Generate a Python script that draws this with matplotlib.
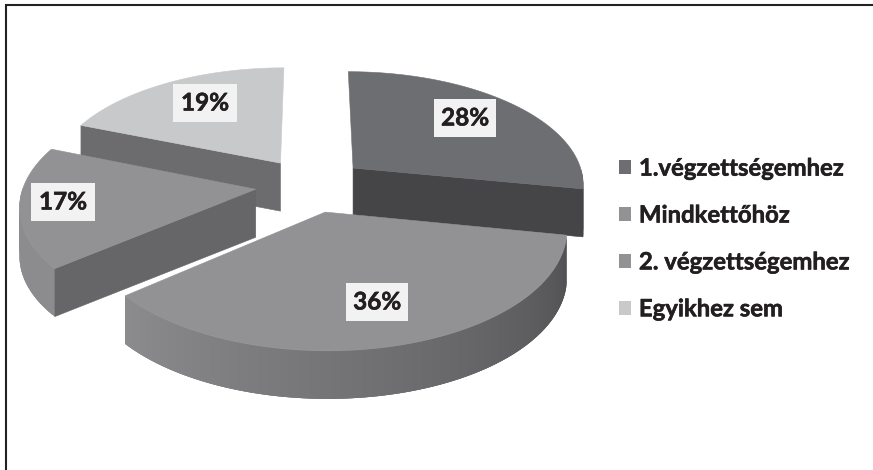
#!/usr/bin/env python3
import matplotlib
matplotlib.use("Agg")
import matplotlib.pyplot as plt
import matplotlib.patheffects as pe
from matplotlib.colors import to_rgb
from matplotlib.patches import Patch, Polygon
import numpy as np

labels = ["1.végzettségemhez", "Mindkettőhöz", "2. végzettségemhez", "Egyikhez sem"]
values = [28, 36, 17, 19]
pct_labels = ["28%", "36%", "17%", "19%"]

top_colors = ["#6d6e71", "#929295", "#929295", "#c8c9cb"]
side_colors = ["#454547", "#666669", "#666669", "#6c6c6f"]
label_pos = [(465, 118), (377, 302), (63, 202), (205, 103)]

# fake perspective, the pie lies on a plane and is tipped away from us
CX, CY = 311, 185
AX, AY = 232, 113
TILT = 0.13
EXPLODE = 0.24
DEPTH = 48

heavy = [pe.withStroke(linewidth=0.4, foreground="#231f20")]


def project(u, v):
    w = 1 + TILT * v
    return CX + AX * u / w, CY - AY * v / w


def wall_color(ang):
    # outer wall is dark on the right and light on the left
    t = np.clip((ang - 100) / 130, 0, 1)
    a = np.array(to_rgb("#505052"))
    b = np.array(to_rgb("#8c8c8e"))
    return a + (b - a) * t


fig = plt.figure(figsize=(8.73, 4.7), dpi=100)
ax = fig.add_axes([0, 0, 1, 1])
ax.set_xlim(0, 873)
ax.set_ylim(470, 0)
ax.axis("off")

# the frame only survives on the top and left of the scan
ax.plot([873, 5.5, 5.5], [5, 5, 470], color="#222222", lw=1.5, solid_joinstyle="miter")

edges = np.cumsum([0] + values) * 3.6
wedges = []
for i in range(len(values)):
    a0, a1 = edges[i], edges[i + 1]
    mid = np.radians((a0 + a1) / 2)
    ou, ov = EXPLODE * np.sin(mid), EXPLODE * np.cos(mid)
    wedges.append((i, a0, a1, ou, ov))

# back pieces first
for i, a0, a1, ou, ov in [wedges[3], wedges[0], wedges[2], wedges[1]]:
    angs = np.linspace(a0, a1, 120)
    ex, ey = project(ou + np.sin(np.radians(angs)), ov + np.cos(np.radians(angs)))
    px, py = project(ou, ov)

    # outer wall, each strip runs under the next one so no seams show
    for j in range(len(angs) - 1):
        if 90 < angs[j] < 270:
            k = min(j + 3, len(angs) - 1)
            strip = [(ex[n], ey[n]) for n in range(j, k + 1)]
            strip += [(ex[n], ey[n] + DEPTH) for n in range(k, j - 1, -1)]
            ax.add_patch(Polygon(strip, fc=wall_color((angs[j] + angs[j + 1]) / 2), ec="none"))

    # cut faces, only those turned to the viewer
    if np.cos(np.radians(a0 - 90)) < -0.01:
        ax.add_patch(Polygon([(px, py), (ex[0], ey[0]), (ex[0], ey[0] + DEPTH), (px, py + DEPTH)],
                             fc=side_colors[i], ec=side_colors[i], lw=0.4))
    if np.cos(np.radians(a1 + 90)) < -0.01:
        ax.add_patch(Polygon([(px, py), (ex[-1], ey[-1]), (ex[-1], ey[-1] + DEPTH), (px, py + DEPTH)],
                             fc=side_colors[i], ec=side_colors[i], lw=0.4))

    top = [(px, py)] + list(zip(ex, ey))
    ax.add_patch(Polygon(top, fc=top_colors[i], ec=top_colors[i], lw=0.4))

for txt, (x, y) in zip(pct_labels, label_pos):
    ax.text(x, y, txt, ha="center", va="center", fontsize=17.5, fontweight="bold",
            family="Lato", color="#231f20", path_effects=heavy,
            bbox=dict(fc="#f2f2f2", ec="none", boxstyle="square,pad=0.31"))

handles = [Patch(fc=c, ec="none") for c in top_colors]
leg = ax.legend(handles, labels, loc="center left", bbox_to_anchor=(0.684, 0.4926), frameon=False,
                prop=dict(family="Lato", weight="bold", size=17.2), labelcolor="#231f20",
                handlelength=0.5, handleheight=0.5, handletextpad=0.35, labelspacing=1.0)
for t in leg.get_texts():
    t.set_path_effects(heavy)

fig.savefig("out.png", dpi=100)
